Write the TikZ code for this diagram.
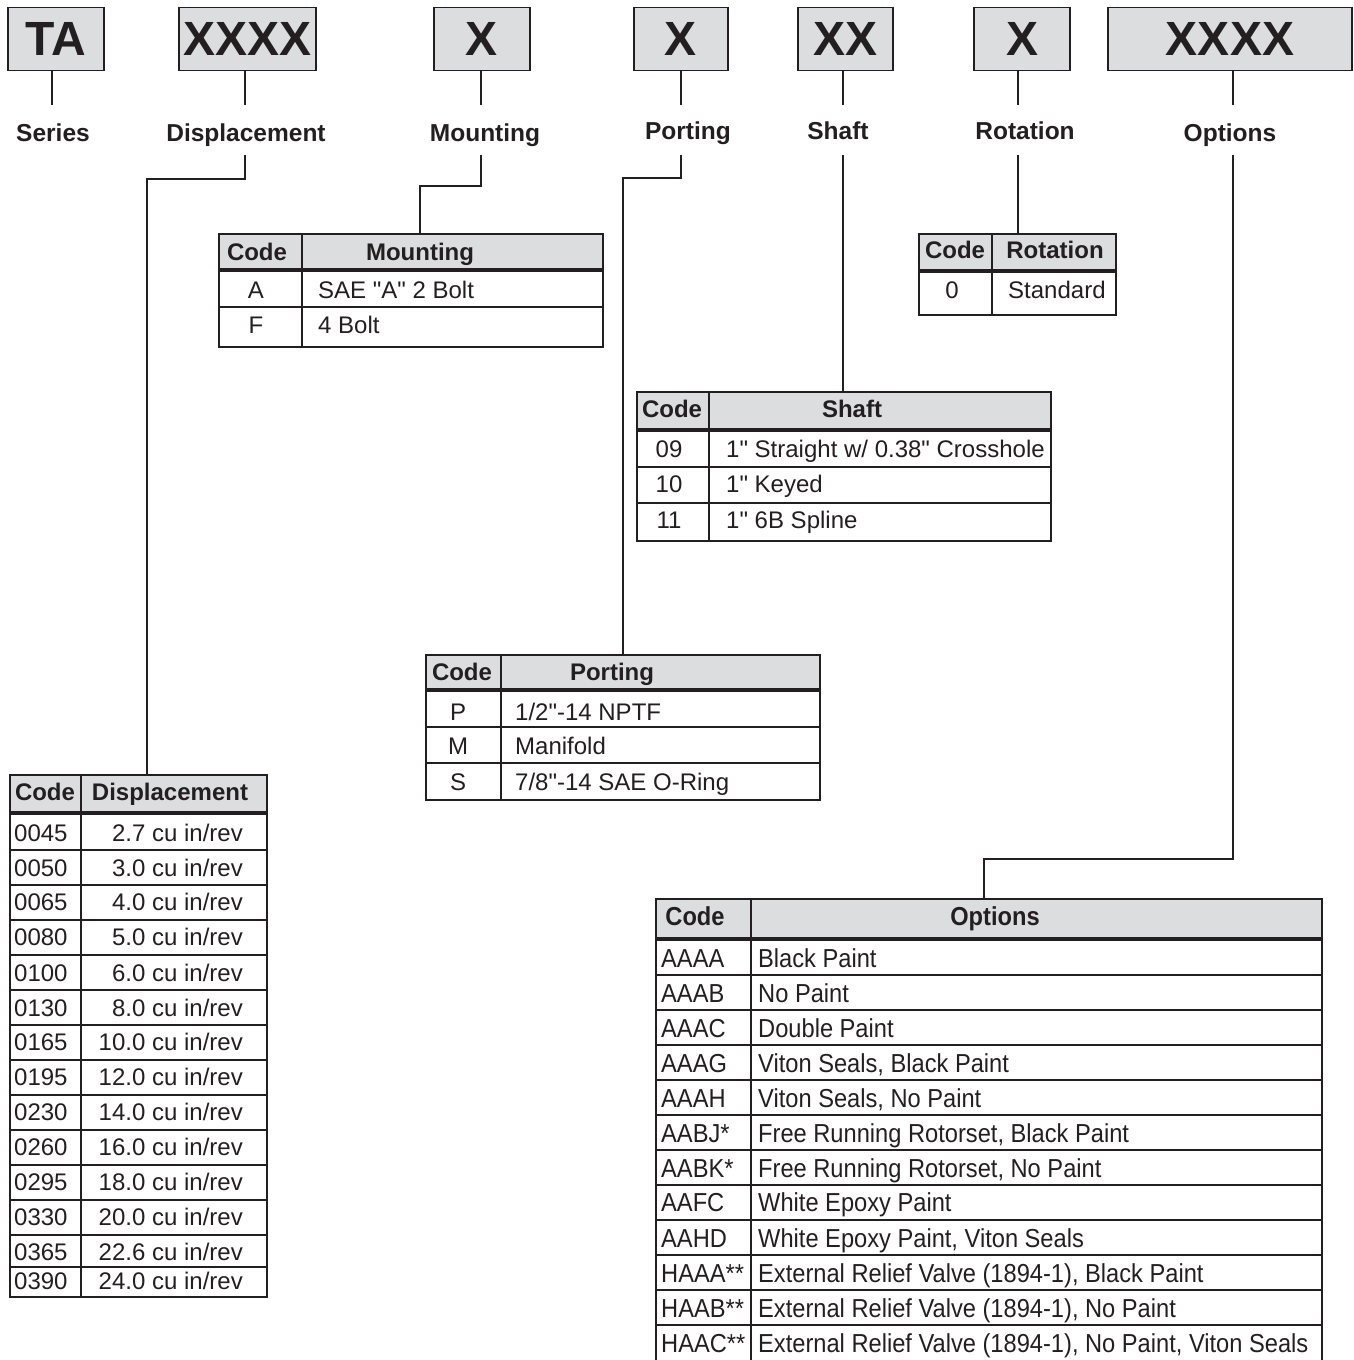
\documentclass[tikz,border=0pt]{standalone}
\usepackage{fontspec}
\setmainfont{Liberation Sans}[Ligatures=TeXOff]
\newfontfamily\narrowfont{Liberation Sans}[FakeStretch=0.91, Ligatures=TeXOff]
\definecolor{ink}{HTML}{231F20}
\definecolor{boxgray}{HTML}{DCDDDF}
\newcommand\fbig{\fontsize{48}{48}\selectfont}
\newcommand\flab{\fontsize{24.5}{24.5}\selectfont}
\newcommand\fcell{\fontsize{24}{24}\selectfont}
\newcommand\fnar{\narrowfont\fontsize{26}{26}\selectfont}
\begin{document}
\begin{tikzpicture}[x=1pt,y=-1pt,
  ln/.style={draw=ink, line width=2pt},
  heavy/.style={draw=ink, line width=4.5pt},
  topbox/.style={draw=ink, line width=1.6pt, fill=boxgray, minimum height=63pt, inner sep=0pt, font=\bfseries\fbig, text=ink},
  lbl/.style={anchor=base, inner sep=0pt, font=\bfseries\flab, text=ink},
  tframe/.style={draw=ink, line width=2.5pt, inner sep=0pt},
  hdr/.style={anchor=base, inner sep=0pt, font=\bfseries\fcell, text=ink},
  cellw/.style={anchor=base west, inner sep=0pt, font=\fcell, text=ink},
  cellc/.style={anchor=base, inner sep=0pt, font=\fcell, text=ink},
  celle/.style={anchor=base east, inner sep=0pt, font=\fcell, text=ink},
  nhdr/.style={anchor=base, inner sep=0pt, font=\bfseries\fnar, text=ink},
  ncell/.style={anchor=base west, inner sep=0pt, font=\fnar, text=ink}
]
\useasboundingbox (0,0) rectangle (1353,1360);
\fill[white] (0,0) rectangle (1353,1360);

% ---------- top code boxes ----------
\node[topbox, minimum width=96pt]  (bTA)    at (56,39)    {TA};
\node[topbox, minimum width=137pt] (bDisp)  at (247.5,39) {XXXX};
\node[topbox, minimum width=96pt]  (bMount) at (482,39)   {X};
\node[topbox, minimum width=94pt]  (bPort)  at (681,39)   {X};
\node[topbox, minimum width=95pt]  (bShaft) at (845.5,39) {XX};
\node[topbox, minimum width=96pt]  (bRot)   at (1022,39)  {X};
\node[topbox, minimum width=244pt] (bOpt)   at (1230,39)  {XXXX};

% stubs
\foreach \n/\x in {TA/52, Disp/245, Mount/481, Port/681, Shaft/843, Rot/1018, Opt/1233}{
  \coordinate (s\n) at (\x,70.5);
  \draw[ln] (s\n) -- ++(0,34.5);
}

% labels
\node[lbl] (lSeries) at (53,141)   {Series};
\node[lbl] (lDisp)   at (246,141)  {Displacement};
\node[lbl] (lMount)  at (485,141)  {Mounting};
\node[lbl] (lPort)   at (688,139)  {Porting};
\node[lbl] (lShaft)  at (838,139)  {Shaft};
\node[lbl] (lRot)    at (1025,139) {Rotation};
\node[lbl] (lOpt)    at (1230,141) {Options};

% ---------- connectors ----------
\coordinate (cDisp)  at (245,155);  \coordinate (tDisp)  at (147,775);
\coordinate (cMount) at (481,155);  \coordinate (tMount) at (420,234);
\coordinate (cPort)  at (681,155);  \coordinate (tPort)  at (623,655);
\coordinate (cShaft) at (843,155);  \coordinate (tShaft) at (843,392);
\coordinate (cRot)   at (1018,155); \coordinate (tRot)   at (1018,234);
\coordinate (cOpt)   at (1233,155); \coordinate (tOpt)   at (984,899);
\draw[ln] (cDisp)  -- ++(0,24)  -| (tDisp);
\draw[ln] (cMount) -- ++(0,31)  -| (tMount);
\draw[ln] (cPort)  -- ++(0,23)  -| (tPort);
\draw[ln] (cShaft) -- (tShaft);
\draw[ln] (cRot)   -- (tRot);
\draw[ln] (cOpt)   -- ++(0,704) -| (tOpt);

% ---------- Mounting table ----------
\fill[boxgray] (219,234) rectangle (603,270);
\draw[ln] (219,307) -- (603,307);
\draw[ln] (302,234) -- (302,347);
\draw[heavy] (219,270) -- (603,270);
\node[tframe, minimum width=384pt, minimum height=113pt] (TMount) at (411,290.5) {};
\node[hdr] (hm1) at (257,260) {Code};
\node[hdr] (hm2) at (420,260) {Mounting};
\node[cellc] (m1c) at (256,298) {A};
\node[cellw] (m1d) at (318,298) {SAE "A" 2 Bolt};
\node[cellc] (m2c) at (256,333) {F};
\node[cellw] (m2d) at (318,333) {4 Bolt};

% ---------- Rotation table ----------
\fill[boxgray] (919,234) rectangle (1116,271);
\draw[ln] (992,234) -- (992,315);
\draw[heavy] (919,271) -- (1116,271);
\node[tframe, minimum width=197pt, minimum height=81pt] (TRot) at (1017.5,274.5) {};
\node[hdr] (hr1) at (955,258) {Code};
\node[hdr] (hr2) at (1055,258) {Rotation};
\node[cellc] (r1c) at (952,298) {0};
\node[cellw] (r1d) at (1008,298) {Standard};

% ---------- Shaft table ----------
\fill[boxgray] (637,392) rectangle (1051,430);
\draw[ln] (637,467) -- (1051,467);
\draw[ln] (637,503) -- (1051,503);
\draw[ln] (709,392) -- (709,541);
\draw[heavy] (637,430) -- (1051,430);
\node[tframe, minimum width=414pt, minimum height=149pt] (TShaft) at (844,466.5) {};
\node[hdr] (hs1) at (672,417) {Code};
\node[hdr] (hs2) at (852,417) {Shaft};
\node[cellc] (s1c) at (669,457) {09};
\node[cellw] (s1d) at (726,457) {1" Straight w/ 0.38" Crosshole};
\node[cellc] (s2c) at (669,492) {10};
\node[cellw] (s2d) at (726,492) {1" Keyed};
\node[cellc] (s3c) at (669,528) {11};
\node[cellw] (s3d) at (726,528) {1" 6B Spline};

% ---------- Porting table ----------
\fill[boxgray] (426,655) rectangle (820,690);
\draw[ln] (426,727) -- (820,727);
\draw[ln] (426,763) -- (820,763);
\draw[ln] (501,655) -- (501,800);
\draw[heavy] (426,690) -- (820,690);
\node[tframe, minimum width=394pt, minimum height=145pt] (TPort) at (623,727.5) {};
\node[hdr] (hp1) at (462,680) {Code};
\node[hdr] (hp2) at (612,680) {Porting};
\node[cellc] (p1c) at (458,720) {P};
\node[cellw] (p1d) at (515,720) {1/2"-14 NPTF};
\node[cellc] (p2c) at (458,754) {M};
\node[cellw] (p2d) at (515,754) {Manifold};
\node[cellc] (p3c) at (458,790) {S};
\node[cellw] (p3d) at (515,790) {7/8"-14 SAE O-Ring};

% ---------- Displacement table ----------
\fill[boxgray] (10,775) rectangle (267,813);
\foreach \y in {850,885,920,955,990,1025,1060,1095,1130,1165,1200,1235,1267}
  \draw[ln] (10,\y) -- (267,\y);
\draw[ln] (81,775) -- (81,1297);
\draw[heavy] (10,813) -- (267,813);
\node[tframe, minimum width=257pt, minimum height=522pt] (TDisp) at (138.5,1036) {};
\node[hdr] (hd1) at (45,800) {Code};
\node[hdr] (hd2) at (170,800) {Displacement};
\foreach \c/\v/\y in {0045/2.7/833, 0050/3.0/868, 0065/4.0/902, 0080/5.0/937,
  0100/6.0/973, 0130/8.0/1008, 0165/10.0/1042, 0195/12.0/1077, 0230/14.0/1112,
  0260/16.0/1147, 0295/18.0/1182, 0330/20.0/1217, 0365/22.6/1252, 0390/24.0/1281}{
  \node[cellw] (dc\c) at (14,\y+8.5) {\c};
  \node[celle] (dv\c) at (243,\y+8.5) {\v\ cu in/rev};
}

% ---------- Options table ----------
\fill[boxgray] (656,899) rectangle (1322,939);
\foreach \y in {975,1010,1045,1080,1115,1150,1185,1220,1255,1290,1325}
  \draw[ln] (656,\y) -- (1322,\y);
\draw[ln] (751,899) -- (751,1362);
\draw[heavy] (656,939) -- (1322,939);
\draw[tframe] (656,1366) -- (656,899) -- (1322,899) -- (1322,1366);
\node[nhdr] (ho1) at (695,925) {Code};
\node[nhdr] (ho2) at (995,925) {Options};
\foreach \i/\c/\d/\y in {1/AAAA/Black Paint/958, 2/AAAB/No Paint/993,
  3/AAAC/Double Paint/1028, 4/AAAG/{Viton Seals, Black Paint}/1063,
  5/AAAH/{Viton Seals, No Paint}/1098, 6/AABJ*/{Free Running Rotorset, Black Paint}/1133,
  7/AABK*/{Free Running Rotorset, No Paint}/1168, 8/AAFC/White Epoxy Paint/1202,
  9/AAHD/{White Epoxy Paint, Viton Seals}/1238,
  10/HAAA**/{External Relief Valve (1894-1), Black Paint}/1273,
  11/HAAB**/{External Relief Valve (1894-1), No Paint}/1308,
  12/HAAC**/{External Relief Valve (1894-1), No Paint, Viton Seals}/1343}{
  \node[ncell] (oc\i) at (661,\y+9) {\c};
  \node[ncell] (od\i) at (758,\y+9) {\d};
}
\end{tikzpicture}
\end{document}
